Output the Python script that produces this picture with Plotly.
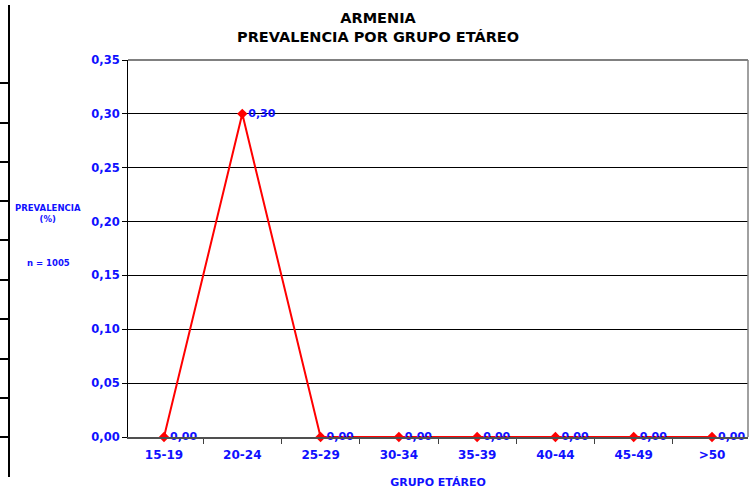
import plotly.graph_objects as go

# Prevalence (%) by age group, Armenia
age_groups = ["15-19", "20-24", "25-29", "30-34", "35-39", "40-44", "45-49", ">50"]
prevalence = [0.00, 0.30, 0.00, 0.00, 0.00, 0.00, 0.00, 0.00]
y_ticks = [0.00, 0.05, 0.10, 0.15, 0.20, 0.25, 0.30, 0.35]

FONT = "DejaVu Sans"
BLUE = "#1010ff"
PLOT_H = 377  # plotting area height in px (used for paper-coordinate offsets)
PLOT_W = 620

fig = go.Figure()
fig.add_trace(go.Scatter(
    x=age_groups,
    y=prevalence,
    mode="lines+markers+text",
    line=dict(color="#ff0000", width=2),
    marker=dict(symbol="diamond", size=8, color="#ff0000"),
    texttemplate="%{y:.2f}",
    textposition="middle right",
    textfont=dict(family=FONT, size=11, color=BLUE, weight="bold"),
    cliponaxis=False,
    showlegend=False,
))

fig.update_layout(
    width=756,
    height=489,
    margin=dict(l=128, r=8, t=60, b=52, autoexpand=False),
    paper_bgcolor="white",
    plot_bgcolor="white",
    separators=",.",
    xaxis=dict(
        type="category",
        automargin=False,
        tickson="boundaries",
        ticks="outside",
        ticklen=5,
        tickcolor="#404040",
        ticklabelstandoff=6,
        showline=True,
        linecolor="#505050",
        linewidth=2,
        showgrid=False,
        tickfont=dict(family=FONT, size=12, color=BLUE, weight="bold"),
        title=dict(text="GRUPO ETÁREO", standoff=18,
                   font=dict(family=FONT, size=11, color=BLUE, weight="bold")),
    ),
    yaxis=dict(
        range=[0, 0.35],
        automargin=False,
        tickvals=y_ticks,
        tickformat=".2f",
        ticks="outside",
        ticklen=5,
        tickcolor="black",
        showline=True,
        linecolor="black",
        linewidth=1,
        showgrid=True,
        gridcolor="black",
        gridwidth=1,
        zeroline=False,
        tickfont=dict(family=FONT, size=11.5, color=BLUE, weight="bold"),
    ),
)

# Chart title
fig.add_annotation(xref="paper", yref="paper", x=(378 - 128) / PLOT_W,
                   y=(437 - 27) / PLOT_H, xanchor="center", yanchor="middle",
                   showarrow=False, align="center",
                   text="ARMENIA<br>PREVALENCIA POR GRUPO ETÁREO",
                   font=dict(family=FONT, size=14.5, color="black", weight="bold"))

# Frame around the plotting area (top and right edges)
fig.add_shape(type="line", xref="paper", yref="paper", x0=0, x1=1, y0=1, y1=1,
              line=dict(color="#808080", width=2))
fig.add_shape(type="line", xref="paper", yref="paper", x0=1, x1=1, y0=0, y1=1,
              line=dict(color="#808080", width=1.5))

# Vertical axis caption
cap_x = (48 - 128) / PLOT_W
fig.add_annotation(xref="paper", yref="paper", x=cap_x, y=(437 - 214) / PLOT_H,
                   xanchor="center", yanchor="middle", showarrow=False, align="center",
                   text="PREVALENCIA<br>(%)",
                   font=dict(family=FONT, size=8.5, color=BLUE, weight="bold"))
fig.add_annotation(xref="paper", yref="paper", x=cap_x, y=(437 - 263) / PLOT_H,
                   xanchor="center", yanchor="middle", showarrow=False,
                   text="n = 1005",
                   font=dict(family=FONT, size=8.5, color=BLUE, weight="bold"))

# Ruled strip along the left edge of the page
strip_x = -119 / PLOT_W
fig.add_shape(type="line", xref="paper", yref="paper",
              x0=strip_x, x1=strip_x, y0=(437 - 477) / PLOT_H, y1=(437 - 5) / PLOT_H,
              line=dict(color="black", width=2))
for py in [83, 123, 162, 201, 240, 280, 319, 359, 398, 437]:
    yy = (437 - py) / PLOT_H
    fig.add_shape(type="line", xref="paper", yref="paper",
                  x0=-128 / PLOT_W, x1=strip_x, y0=yy, y1=yy,
                  line=dict(color="black", width=2))

fig.write_html("out.html")
